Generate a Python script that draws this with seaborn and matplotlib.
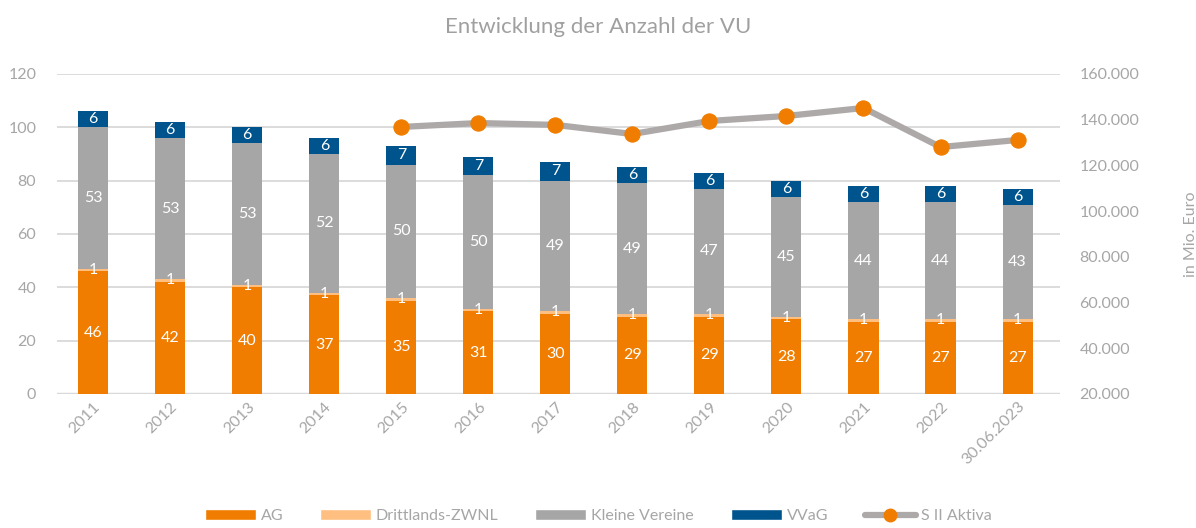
import matplotlib
matplotlib.use("Agg")
import matplotlib.pyplot as plt
import seaborn as sns
import numpy as np
import pandas as pd
from matplotlib.patches import Patch
from matplotlib.lines import Line2D
from matplotlib.ticker import FuncFormatter

categories = ["2011", "2012", "2013", "2014", "2015", "2016", "2017", "2018",
              "2019", "2020", "2021", "2022", "30.06.2023"]
ag = [46, 42, 40, 37, 35, 31, 30, 29, 29, 28, 27, 27, 27]
drittlands = [1, 1, 1, 1, 1, 1, 1, 1, 1, 1, 1, 1, 1]
kleine = [53, 53, 53, 52, 50, 50, 49, 49, 47, 45, 44, 44, 43]
vvag = [6, 6, 6, 6, 7, 7, 7, 6, 6, 6, 6, 6, 6]
aktiva_years = ["2015", "2016", "2017", "2018", "2019", "2020", "2021", "2022", "30.06.2023"]
aktiva = [136800, 138500, 137700, 133700, 139400, 141600, 145100, 128000, 131100]

C_AG = "#F07D00"
C_DR = "#FFBF80"
C_KL = "#A6A6A6"
C_VV = "#00548E"
C_LINE = "#AEA9A9"
C_TXT = "#A6A6A6"

sns.set_theme(style="white")
plt.rcParams['font.family'] = ['Lato', 'DejaVu Sans']

fig = plt.figure(figsize=(11.96, 5.28), dpi=100)
ax = fig.add_axes([0.0477, 0.254, 0.8385, 0.606])

ag_a = np.array(ag)
dr_a = np.array(drittlands)
kl_a = np.array(kleine)
vv_a = np.array(vvag)
lvl1 = ag_a
lvl2 = lvl1 + dr_a
lvl3 = lvl2 + kl_a
lvl4 = lvl3 + vv_a

W = 0.39
for vals, col in [(lvl4, C_VV), (lvl3, C_KL), (lvl2, C_DR), (lvl1, C_AG)]:
    df = pd.DataFrame({"cat": categories, "v": vals})
    sns.barplot(data=df, x="cat", y="v", color=col, width=W, ax=ax,
                saturation=1, edgecolor="none", linewidth=0, zorder=3)

# labels
for i in range(len(categories)):
    fs = 11.5
    ax.text(i, lvl1[i] / 2, str(ag[i]), ha="center", va="center", color="white", fontsize=fs, zorder=5)
    ax.text(i, lvl1[i] + 0.6, str(drittlands[i]), ha="center", va="center", color="white", fontsize=fs, zorder=5)
    ax.text(i, lvl2[i] + kl_a[i] / 2, str(kleine[i]), ha="center", va="center", color="white", fontsize=fs, zorder=5)
    ax.text(i, lvl3[i] + vv_a[i] / 2, str(vvag[i]), ha="center", va="center", color="white", fontsize=fs, zorder=5)

ax.set_ylim(0, 120)
ax.set_yticks(range(0, 121, 20))
ax.set_xlim(-0.47, 12.55)
ax.grid(axis="y", color="#D9D9D9", linewidth=1.3, zorder=0)
ax.set_axisbelow(True)
for s in ax.spines.values():
    s.set_visible(False)
ax.axhline(0, color="#D9D9D9", linewidth=2.5, zorder=2)
ax.set_xlabel("")
ax.set_ylabel("")
ax.tick_params(axis="y", colors=C_TXT, labelsize=11.5, length=0, pad=15)
ax.tick_params(axis="x", colors=C_TXT, labelsize=11.5, length=0, pad=4)
for lab in ax.get_xticklabels():
    lab.set_rotation(45)
    lab.set_ha("right")
    lab.set_rotation_mode("anchor")

ax2 = ax.twinx()
xpos = [categories.index(y) for y in aktiva_years]
dfl = pd.DataFrame({"x": xpos, "v": aktiva})
sns.lineplot(data=dfl, x="x", y="v", ax=ax2, color=C_LINE, linewidth=4.5, zorder=4,
             marker="o", markersize=11, markerfacecolor=C_AG, markeredgecolor=C_AG)
ax2.set_ylim(20000, 160000)
ax2.set_yticks(range(20000, 160001, 20000))
ax2.yaxis.set_major_formatter(FuncFormatter(lambda v, p: f"{int(v):,}".replace(",", ".")))
ax2.tick_params(axis="y", colors=C_TXT, labelsize=11.5, length=0, pad=14)
for s in ax2.spines.values():
    s.set_visible(False)
ax2.set_xlabel("")
ax2.set_ylabel("in Mio. Euro", color=C_TXT, fontsize=11.5, labelpad=32)
ax2.grid(False)
ax2.set_xlim(-0.47, 12.55)

fig.text(0.5, 0.948, "Entwicklung der Anzahl der VU", ha="center", va="center",
         color="#A0A0A0", fontsize=16)

handles = [
    Patch(facecolor=C_AG, label="AG"),
    Patch(facecolor=C_DR, label="Drittlands-ZWNL"),
    Patch(facecolor=C_KL, label="Kleine Vereine"),
    Patch(facecolor=C_VV, label="VVaG"),
    Line2D([0], [0], color=C_LINE, linewidth=4.5, marker="o", markersize=9,
           markerfacecolor=C_AG, markeredgecolor=C_AG, label="S II Aktiva"),
]
leg = fig.legend(handles=handles, loc="center", bbox_to_anchor=(0.5, 0.022), ncol=5,
                 frameon=False, fontsize=11.5, handlelength=3.2, handleheight=0.7,
                 columnspacing=2.3, handletextpad=0.3, labelcolor=C_TXT)

fig.savefig("out.png", dpi=100)
